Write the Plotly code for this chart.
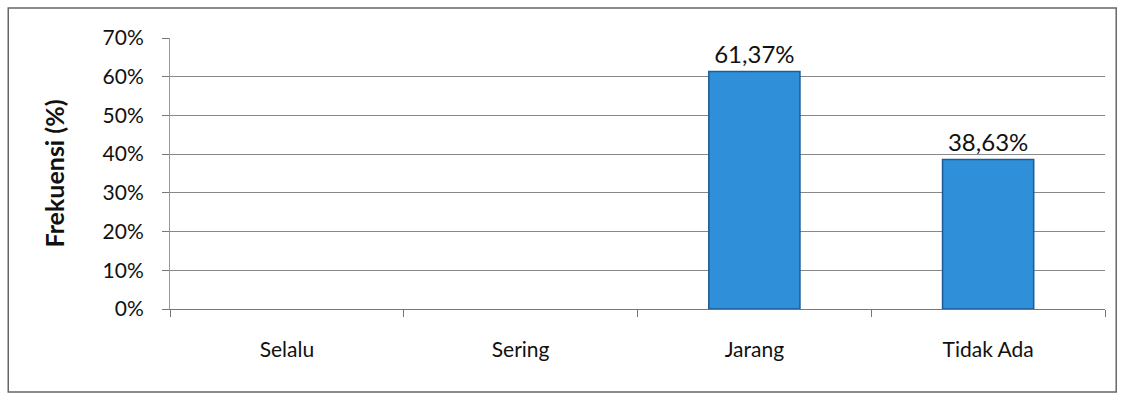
import plotly.graph_objects as go

categories = ["Selalu", "Sering", "Jarang", "Tidak Ada"]
values = [0, 0, 61.37, 38.63]
value_labels = ["", "", "61,37%", "38,63%"]
y_ticks = [0, 10, 20, 30, 40, 50, 60, 70]
y_tick_labels = [f"{v}%" for v in y_ticks]

FONT = "Lato, Open Sans, sans-serif"

edge_widths = [1.5 if v > 0 else 0 for v in values]

fig = go.Figure()
fig.add_trace(go.Bar(
    x=categories,
    y=values,
    text=value_labels,
    textposition="outside",
    textfont=dict(family=FONT, size=24, color="#111111"),
    cliponaxis=False,
    width=0.39,
    marker=dict(color="#2F8FD9", line=dict(color="#1D5C94", width=edge_widths)),
    hoverinfo="x+y",
))

fig.update_layout(
    width=1122, height=401,
    margin=dict(l=170, r=17, t=38, b=92),
    paper_bgcolor="white",
    plot_bgcolor="white",
    showlegend=False,
    font=dict(family=FONT, size=21, color="#111111"),
    xaxis=dict(
        type="category",
        tickson="boundaries",
        ticks="outside",
        ticklen=7,
        tickcolor="#777777",
        showline=True,
        linecolor="#777777",
        linewidth=1,
        showgrid=False,
        tickfont=dict(family=FONT, size=21, color="#111111"),
        ticklabelstandoff=22,
    ),
    yaxis=dict(
        range=[0, 70],
        tickvals=y_ticks,
        ticktext=y_tick_labels,
        ticks="outside",
        ticklen=7,
        tickcolor="#777777",
        showline=True,
        linecolor="#999999",
        showgrid=True,
        gridcolor="#888888",
        gridwidth=1,
        zeroline=False,
        tickfont=dict(family=FONT, size=21, color="#111111"),
        ticklabelstandoff=14,
        title=dict(text="<b>Frekuensi (%)</b>", font=dict(family=FONT, size=25, color="#111111"), standoff=30),
    ),
)

fig.add_shape(
    type="rect", xref="paper", yref="paper",
    x0=-0.173, x1=1.012, y0=-0.306, y1=1.111,
    line=dict(color="#666666", width=1.5), fillcolor="rgba(0,0,0,0)", layer="below",
)

fig.write_html("out.html")
